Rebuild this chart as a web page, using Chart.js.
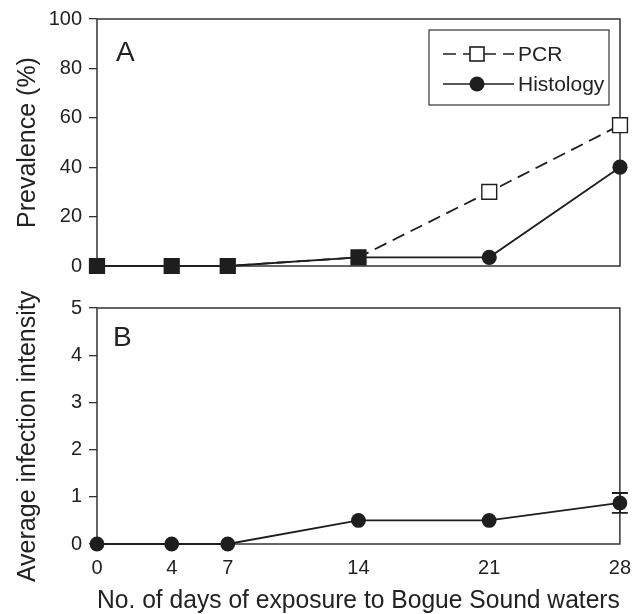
<!DOCTYPE html>
<html>
<head>
<meta charset="utf-8">
<script src="https://cdn.jsdelivr.net/npm/chart.js@4.4.1/dist/chart.umd.min.js"></script>
<style>
    html, body { margin: 0; padding: 0; background: #fff; }
    #wrap { position: relative; width: 643px; height: 614px; }
    #panelA { position: absolute; left: 0; top: 0; }
    #panelB { position: absolute; left: 0; top: 285px; }
</style>
</head>
<body>
<div id="wrap">
    <canvas id="panelA" width="643" height="285"></canvas>
    <canvas id="panelB" width="643" height="329"></canvas>
</div>
<script>
// Data
const days = [0, 4, 7, 14, 21, 28];
const pcrPrevalence = [0, 0, 0, 3.5, 30, 57];
const histologyPrevalence = [0, 0, 0, 3.5, 3.5, 40];
const infectionIntensity = [0, 0, 0, 0.5, 0.5, 0.87];
const intensityError = [0, 0, 0, 0, 0, 0.21];
const prevalenceTicks = [0, 20, 40, 60, 80, 100];
const intensityTicks = [0, 1, 2, 3, 4, 5];
const dayTicks = [0, 4, 7, 14, 21, 28];

const INK = '#1e1e1e';
const TEXT = '#222';
const FONT = 'Liberation Sans, Arial, Helvetica, sans-serif';

Chart.defaults.font.family = FONT;
Chart.defaults.color = TEXT;
Chart.defaults.animation = false;

function toPoints(xs, ys) {
    return xs.map((x, i) => ({ x: x, y: ys[i] }));
}

// Box around the plot area
const framePlugin = {
    id: 'frame',
    beforeDatasetsDraw(chart) {
        const a = chart.chartArea;
        const ctx = chart.ctx;
        ctx.save();
        ctx.strokeStyle = '#333';
        ctx.lineWidth = 1.5;
        ctx.strokeRect(a.left, a.top, a.right - a.left, a.bottom - a.top);
        ctx.restore();
    }
};

// Panel letter in the upper left corner
const letterPlugin = {
    id: 'letter',
    afterDraw(chart, args, opts) {
        const a = chart.chartArea;
        const ctx = chart.ctx;
        ctx.save();
        ctx.fillStyle = TEXT;
        ctx.font = '28px ' + FONT;
        ctx.textBaseline = 'alphabetic';
        ctx.fillText(opts.text, a.left + opts.dx, a.top + opts.dy);
        ctx.restore();
    }
};

// Legend box drawn like the original figure
const legendBoxPlugin = {
    id: 'legendBox',
    afterDraw(chart) {
        const a = chart.chartArea;
        const ctx = chart.ctx;
        const left = a.right - 191, top = a.top + 11, w = 180, h = 75;
        ctx.save();
        ctx.fillStyle = '#fff';
        ctx.fillRect(left, top, w, h);
        ctx.strokeStyle = '#333';
        ctx.lineWidth = 1.2;
        ctx.strokeRect(left, top, w, h);

        const x0 = left + 14, x1 = left + 85, mx = left + 48;
        const y1 = top + 24, y2 = top + 54;

        // PCR row
        ctx.strokeStyle = INK;
        ctx.lineWidth = 1.6;
        ctx.setLineDash([13, 7]);
        ctx.beginPath();
        ctx.moveTo(x0, y1);
        ctx.lineTo(x1, y1);
        ctx.stroke();
        ctx.setLineDash([]);
        ctx.fillStyle = '#fff';
        ctx.fillRect(mx - 7, y1 - 7, 14, 14);
        ctx.strokeRect(mx - 7, y1 - 7, 14, 14);

        // Histology row
        ctx.beginPath();
        ctx.moveTo(x0, y2);
        ctx.lineTo(x1, y2);
        ctx.stroke();
        ctx.fillStyle = INK;
        ctx.beginPath();
        ctx.arc(mx, y2, 7.5, 0, Math.PI * 2);
        ctx.fill();

        ctx.fillStyle = TEXT;
        ctx.font = '21px ' + FONT;
        ctx.textBaseline = 'middle';
        ctx.fillText('PCR', left + 89, y1 + 1);
        ctx.fillText('Histology', left + 89, y2 + 1);
        ctx.restore();
    }
};

// Error bars for panel B
const errorBarPlugin = {
    id: 'errorBars',
    afterDatasetsDraw(chart) {
        const xs = chart.scales.x, ys = chart.scales.y;
        const ctx = chart.ctx;
        ctx.save();
        ctx.strokeStyle = INK;
        ctx.lineWidth = 1.8;
        days.forEach((d, i) => {
            const e = intensityError[i];
            if (!e) return;
            const px = xs.getPixelForValue(d);
            const top = ys.getPixelForValue(infectionIntensity[i] + e);
            const bot = ys.getPixelForValue(infectionIntensity[i] - e);
            ctx.beginPath();
            ctx.moveTo(px, top); ctx.lineTo(px, bot);
            ctx.moveTo(px - 8, top); ctx.lineTo(px + 8, top);
            ctx.moveTo(px - 8, bot); ctx.lineTo(px + 8, bot);
            ctx.stroke();
        });
        ctx.restore();
    }
};

function yAxis(ticks, label) {
    return {
        type: 'linear',
        min: ticks[0],
        max: ticks[ticks.length - 1],
        afterBuildTicks: (scale) => { scale.ticks = ticks.map(v => ({ value: v })); },
        afterFit: (scale) => { scale.width = 97; },
        border: { display: false },
        grid: { display: true, drawOnChartArea: false, drawTicks: true, tickLength: 8, color: '#333', lineWidth: 1.3 },
        ticks: { padding: 7, font: { size: 20 }, color: TEXT },
        title: { display: true, text: label, font: { size: 25, lineHeight: 1 }, padding: { top: 16, bottom: 0 }, color: TEXT }
    };
}

const chartA = new Chart(document.getElementById('panelA'), {
    type: 'line',
    data: {
        datasets: [
            {
                label: 'PCR',
                data: toPoints(days, pcrPrevalence),
                borderColor: INK,
                borderWidth: 1.8,
                borderDash: [13, 7],
                pointStyle: 'rect',
                pointRadius: 10.5,
                pointBorderWidth: 1.4,
                pointBorderColor: INK,
                pointBackgroundColor: [INK, INK, INK, INK, '#fff', '#fff'],
                clip: false
            },
            {
                label: 'Histology',
                data: toPoints(days, histologyPrevalence),
                borderColor: INK,
                borderWidth: 1.8,
                pointStyle: 'circle',
                pointRadius: 7.6,
                pointBorderWidth: 0,
                pointBackgroundColor: INK,
                clip: false
            }
        ]
    },
    options: {
        responsive: false,
        layout: { padding: { left: 0, top: 17, right: 23, bottom: 18 } },
        plugins: {
            legend: { display: false },
            tooltip: { enabled: false },
            letter: { text: 'A', dx: 19, dy: 42 }
        },
        scales: {
            x: {
                type: 'linear', min: 0, max: 28, display: false
            },
            y: yAxis(prevalenceTicks, 'Prevalence (%)')
        }
    },
    plugins: [framePlugin, letterPlugin, legendBoxPlugin]
});

const chartB = new Chart(document.getElementById('panelB'), {
    type: 'line',
    data: {
        datasets: [
            {
                label: 'Intensity',
                data: toPoints(days, infectionIntensity),
                borderColor: INK,
                borderWidth: 1.8,
                pointStyle: 'circle',
                pointRadius: 7.4,
                pointBorderWidth: 0,
                pointBackgroundColor: INK,
                clip: false
            }
        ]
    },
    options: {
        responsive: false,
        layout: { padding: { left: 0, top: 23, right: 22, bottom: 0 } },
        plugins: {
            legend: { display: false },
            tooltip: { enabled: false },
            letter: { text: 'B', dx: 16, dy: 38 }
        },
        scales: {
            x: {
                type: 'linear',
                min: 0,
                max: 28,
                afterBuildTicks: (scale) => { scale.ticks = dayTicks.map(v => ({ value: v })); },
                afterFit: (scale) => { scale.height = 70; },
                border: { display: false },
                grid: { display: false, drawTicks: false },
                ticks: { padding: 12, font: { size: 20 }, color: TEXT, maxRotation: 0, autoSkip: false },
                title: { display: true, text: 'No. of days of exposure to Bogue Sound waters', font: { size: 25, lineHeight: 1 }, padding: 0, color: TEXT }
            },
            // trailing spaces nudge the rotated title down, as in the original
            y: yAxis(intensityTicks, 'Average infection intensity   ')
        }
    },
    plugins: [framePlugin, letterPlugin, errorBarPlugin]
});
</script>
</body>
</html>
